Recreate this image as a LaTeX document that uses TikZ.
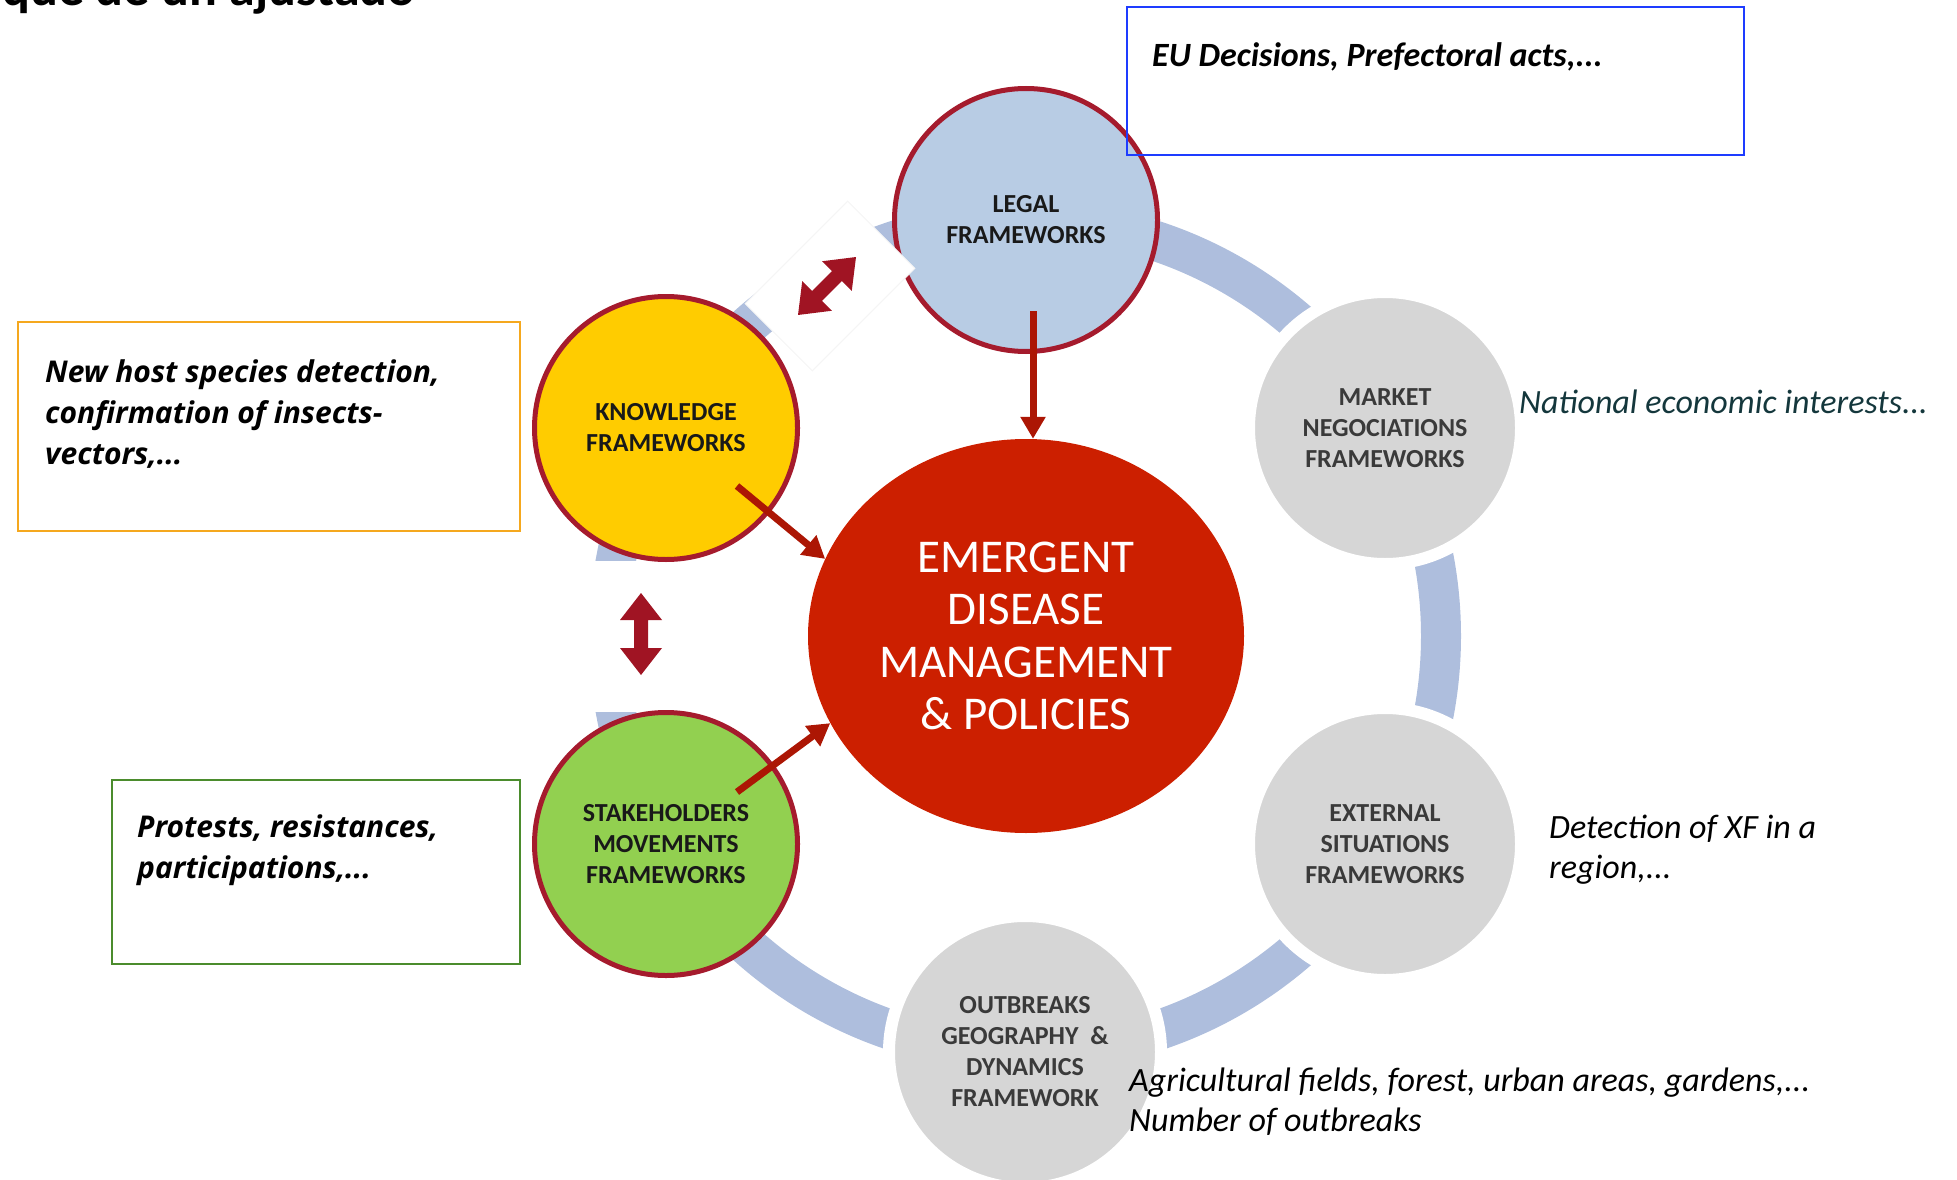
\documentclass[tikz,border=0pt]{standalone}
\usepackage{fontspec}
\setmainfont{Carlito}
\newfontfamily\boxfont{Open Sans}
\usetikzlibrary{arrows.meta,shapes.geometric}
\definecolor{ringc}{RGB}{174,190,221}
\definecolor{legalc}{RGB}{184,204,228}
\definecolor{knowc}{RGB}{255,204,0}
\definecolor{stakec}{RGB}{146,208,80}
\definecolor{greyc}{RGB}{214,214,214}
\definecolor{bordc}{RGB}{165,27,45}
\definecolor{centc}{RGB}{204,31,0}
\definecolor{arrc}{RGB}{172,22,4}
\definecolor{blockc}{RGB}{160,20,35}
\definecolor{greytext}{RGB}{58,58,58}
\definecolor{tealtext}{RGB}{20,55,60}
\definecolor{orangeb}{RGB}{245,168,30}
\definecolor{greenb}{RGB}{75,140,45}
\definecolor{blueb}{RGB}{30,60,255}
\begin{document}
\begin{tikzpicture}[x=1pt,y=-1pt,
  redcirc/.style={circle, draw=bordc, line width=5pt, minimum size=263pt, inner sep=0pt, align=center,
    font=\fontsize{26}{31}\selectfont\bfseries, text=black!90},
  greycirc/.style={circle, fill=greyc, draw=white, line width=12pt, minimum size=272pt, inner sep=0pt, align=center,
    font=\fontsize{26}{31}\selectfont\bfseries, text=greytext},
  arr/.style={draw=arrc, line width=7pt, -{Triangle[length=22pt,width=24pt]}},
  infobox/.style={draw, line width=2pt, anchor=north west, inner sep=0pt},
  boxtext/.style={anchor=base west, align=left, inner sep=0pt, font=\boxfont\fontsize{30}{41}\selectfont\bfseries\itshape},
  sidetext/.style={anchor=base west, align=left, inner sep=0pt, font=\fontsize{34}{40}\selectfont\itshape},
  patch/.style={fill=white, inner sep=0pt},
  dblarrow/.pic={\fill[blockc] (0,-41) -- (21,-14) -- (7,-14) -- (7,14) -- (21,14) -- (0,41)
     -- (-21,14) -- (-7,14) -- (-7,-14) -- (-21,-14) -- cycle;}
]
\useasboundingbox (0,0) rectangle (1957,1180);
% cut-off title
\begin{scope}
\clip (0,0) rectangle (1957,1180);
\node[anchor=base west, inner sep=0pt, font=\fontsize{52}{52}\selectfont\bfseries] (title) at (2,6) {que de un ajustado};
\end{scope}
% ring
\coordinate (hc) at (1025,636);
\draw[ringc, line width=40pt] (hc) circle [radius=416];
% white patch between knowledge and stakeholders
\node[patch, minimum width=115pt, minimum height=151pt, anchor=north west] (patchks) at (585,561) {};
% legal circle
\node[redcirc, fill=legalc] (legal) at (1026,220) {LEGAL\\FRAMEWORKS};
% white band between knowledge and legal
\node[patch, draw=black!4, line width=1pt, minimum width=145pt, minimum height=95pt, rotate=45] (band) at (830,286) {};
% other circles
\node[redcirc, fill=knowc] (know) at (666,428) {KNOWLEDGE\\FRAMEWORKS};
\node[redcirc, fill=stakec] (stake) at (666,844) {STAKEHOLDERS\\MOVEMENTS\\FRAMEWORKS};
\node[greycirc] (market) at (1385,428) {MARKET\\NEGOCIATIONS\\FRAMEWORKS};
\node[greycirc] (external) at (1385,844) {EXTERNAL\\SITUATIONS\\FRAMEWORKS};
\node[greycirc] (outbreaks) at (1025,1052) {OUTBREAKS\\GEOGRAPHY~~\&\\DYNAMICS\\FRAMEWORK};
% central ellipse
\node[ellipse, fill=centc, minimum width=436pt, minimum height=394pt, inner sep=0pt, align=center, text=white,
  font=\fontsize{47}{52.5}\selectfont] (em) at (1026,636) {EMERGENT\\DISEASE\\MANAGEMENT\\\& POLICIES};
% boxes
\node[infobox, draw=blueb, minimum width=617pt, minimum height=148pt] (eubox) at (1126,6) {};
\node[anchor=base west, inner sep=0pt, font=\fontsize{34}{40}\selectfont\bfseries\itshape] (eutext) at (1152,67) {EU Decisions, Prefectoral acts,...};
\node[infobox, draw=orangeb, minimum width=502pt, minimum height=209pt] (kbox) at (17,321) {};
\node[boxtext] (ktext) at (45,464) {New host species detection,\\confirmation of insects-\\vectors,...};
\node[infobox, draw=greenb, minimum width=408pt, minimum height=184pt] (sbox) at (111,779) {};
\node[boxtext] (stext) at (137,878) {Protests, resistances,\\participations,...};
% side texts
\node[sidetext, text=tealtext] (natl) at (1519,413) {National economic interests...};
\node[sidetext] (detect) at (1549,878) {Detection of XF in a\\region,...};
\node[sidetext] (agri) at (1129,1131) {Agricultural fields, forest, urban areas, gardens,...\\Number of outbreaks};
% arrows to centre
\coordinate (la) at (1033,311);
\coordinate (ka) at (737,486);
\coordinate (sa) at (737,792);
\draw[arr] (la) -- (la |- em.north);
\draw[arr] (ka) -- (em.159);
\draw[arr] (sa) -- (em.204);
% double block arrows
\pic (varrow) at (641,634) {dblarrow};
\pic[rotate=-45] (darrow) at (827,286) {dblarrow};
\end{tikzpicture}
\end{document}
